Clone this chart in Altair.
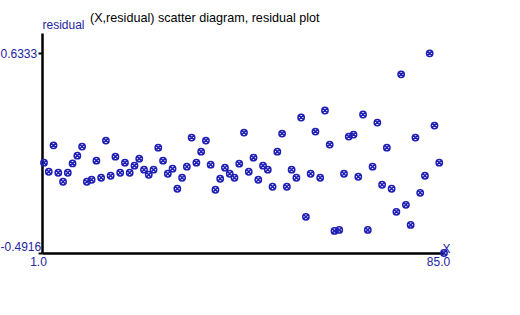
import altair as alt
import pandas as pd

x_values = list(range(1, 86))
residuals = [
    0.0171, -0.0338, 0.1149, -0.0394, -0.0903, -0.0394, 0.0132, 0.0567, 0.1076, -0.0903,
    -0.0790, 0.0284, -0.0677, 0.1415, -0.0564, 0.0510, -0.0394, 0.0171, -0.0394, 0.0002,
    0.0397, -0.0224, -0.0507, -0.0224, 0.1019, 0.0284, -0.0451, -0.0168, -0.1299, -0.0677,
    -0.0055, 0.1584, 0.0171, 0.0793, 0.1415, 0.0058, -0.1355, -0.0733, -0.0111, -0.0451,
    -0.0677, 0.0115, 0.1867, -0.0338, 0.0454, -0.0790, 0.0002, -0.0224, -0.1185, 0.0793,
    0.1811, -0.1185, -0.0224, -0.0677, 0.2715, -0.2881, -0.0451, 0.1924, -0.0677, 0.3111,
    0.1189, -0.3673, -0.3616, -0.0451, 0.1641, 0.1754, -0.0620, 0.2885, -0.3616, -0.0055,
    0.2432, -0.1072, 0.1019, -0.1299, -0.2599, 0.5146, -0.2203, -0.3334, 0.1584, -0.1525,
    -0.0564, 0.6333, 0.2263, 0.0171, -0.4916,
]
y_ticks = [-0.4916, 0.6333]
x_ticks = [1, 85]
title_text = ["(X,residual) scatter diagram, residual plot"]

df = pd.DataFrame({"x": x_values, "residual": residuals})
title_df = pd.DataFrame({"t": title_text})

BLUE = "#1e1eb4"
LABEL_BLUE = "#2424a0"
FONT = "Liberation Sans"
SHAPE = "M-1,0A1,1 0 1,1 1,0A1,1 0 1,1 -1,0Z M-0.7,-0.7L0.7,0.7M-0.7,0.7L0.7,-0.7"

x_enc = alt.X("x:Q", scale=alt.Scale(domain=[0.58, 85], nice=False, zero=False),
              axis=alt.Axis(values=x_ticks, format=".1f", ticks=False, grid=False,
                            labelColor=LABEL_BLUE, labelFont=FONT, labelFontSize=12,
                            labelOffset=-6, labelPadding=3, labelFlush=False,
                            domainColor="black", domainWidth=2.5,
                            title="X", titleColor=LABEL_BLUE, titleFont=FONT,
                            titleFontSize=12, titleFontWeight="normal", titleAngle=0,
                            titleAlign="left", titleBaseline="alphabetic",
                            titleX=400, titleY=-1))
y_enc = alt.Y("residual:Q", scale=alt.Scale(domain=[-0.4916, 0.7476], nice=False, zero=False),
              axis=alt.Axis(values=y_ticks,
                            labelExpr="(datum.value < 0 ? '-' : '') + format(abs(datum.value), '.4f')",
                            grid=False,
                            labelColor=LABEL_BLUE, labelFont=FONT, labelFontSize=12,
                            labelAlign="left", labelPadding=38, labelFlush=True,
                            tickColor="black", tickWidth=2, tickSize=4,
                            domainColor="black", domainWidth=2.5,
                            title="residual", titleColor=LABEL_BLUE, titleFont=FONT,
                            titleFontSize=12, titleFontWeight="normal", titleAngle=0,
                            titleAlign="left", titleBaseline="alphabetic",
                            titleX=0, titleY=-5))

points = alt.Chart(df).mark_point(
    shape=SHAPE, size=40, filled=False, color=BLUE, strokeWidth=1.5, opacity=1
).encode(x=x_enc, y=y_enc)

title_mark = alt.Chart(title_df).mark_text(
    align="left", baseline="alphabetic", font=FONT, fontSize=12.6, color="black"
).encode(text="t:N", x=alt.value(48), y=alt.value(-11))

chart = alt.layer(points, title_mark).properties(
    width=402,
    height=220,
    autosize="none",
    padding={"left": 42, "top": 33, "right": 76, "bottom": 62},
    background="white",
).configure_view(stroke=None)

chart.save("out.html", embed_options={"renderer": "svg", "actions": False})
